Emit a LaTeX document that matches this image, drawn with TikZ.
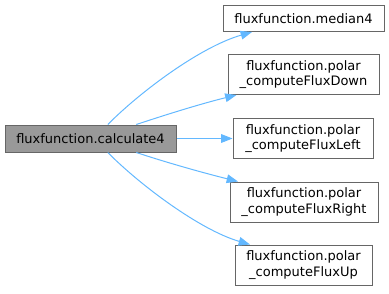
\documentclass[tikz,border=0pt]{standalone}
\usepackage{fontspec}
\setmainfont{DejaVu Sans}
\usetikzlibrary{arrows.meta, positioning, calc}
\definecolor{edgeblue}{HTML}{63B8FF}
\definecolor{boxline}{HTML}{666666}
\definecolor{rootfill}{HTML}{999999}

\begin{document}
\begin{tikzpicture}[
  x=0.75pt, y=-0.75pt,
  fnbox/.style={draw=boxline, line width=0.75pt, fill=white, align=center, inner sep=1pt,
    font=\fontsize{9.75}{11.6}\selectfont},
  rootbox/.style={fnbox, fill=rootfill},
  call/.style={draw=edgeblue, line width=0.75pt, -{Triangle[length=8.5pt,width=6.5pt]}}
  ]
  \useasboundingbox (0,0) rectangle (389,293);
  % caller
  \node[rootbox, minimum width=128.25pt, minimum height=20.25pt] (calc) at (90.5,138.5) {fluxfunction.calculate4};
  % callees
  \node[fnbox, minimum width=120.75pt, minimum height=19.5pt] (median) at (303.5,18.5) {fluxfunction.median4};
  \node[fnbox, minimum width=113.25pt, minimum height=30pt] (fdown) at (303.5,74.5) {fluxfunction.polar\\\_computeFluxDown};
  \node[fnbox, minimum width=105pt, minimum height=30pt] (fleft) at (303,138.5) {fluxfunction.polar\\\_computeFluxLeft};
  \node[fnbox, minimum width=111pt, minimum height=30pt] (fright) at (304,202) {fluxfunction.polar\\\_computeFluxRight};
  \node[fnbox, minimum width=102.75pt, minimum height=30pt] (fup) at (303.5,265) {fluxfunction.polar\\\_computeFluxUp};
  % calls
  \draw[call] (calc.39) .. controls (140,92) and (200,47) .. ($(median.south)+(-51.5,0)$);
  \draw[call] (calc.17) .. controls (165,115) and (200,104) .. ($(fdown.south)+(-67,0)$);
  \draw[call] (calc.east) -- (fleft.west);
  \draw[call] (calc.-17) .. controls (165,162) and (200,172) .. ($(fright.north)+(-66,0)$);
  \draw[call] (calc.-39) .. controls (140,185) and (200,230) .. ($(fup.north)+(-53.5,0)$);
\end{tikzpicture}
\end{document}
